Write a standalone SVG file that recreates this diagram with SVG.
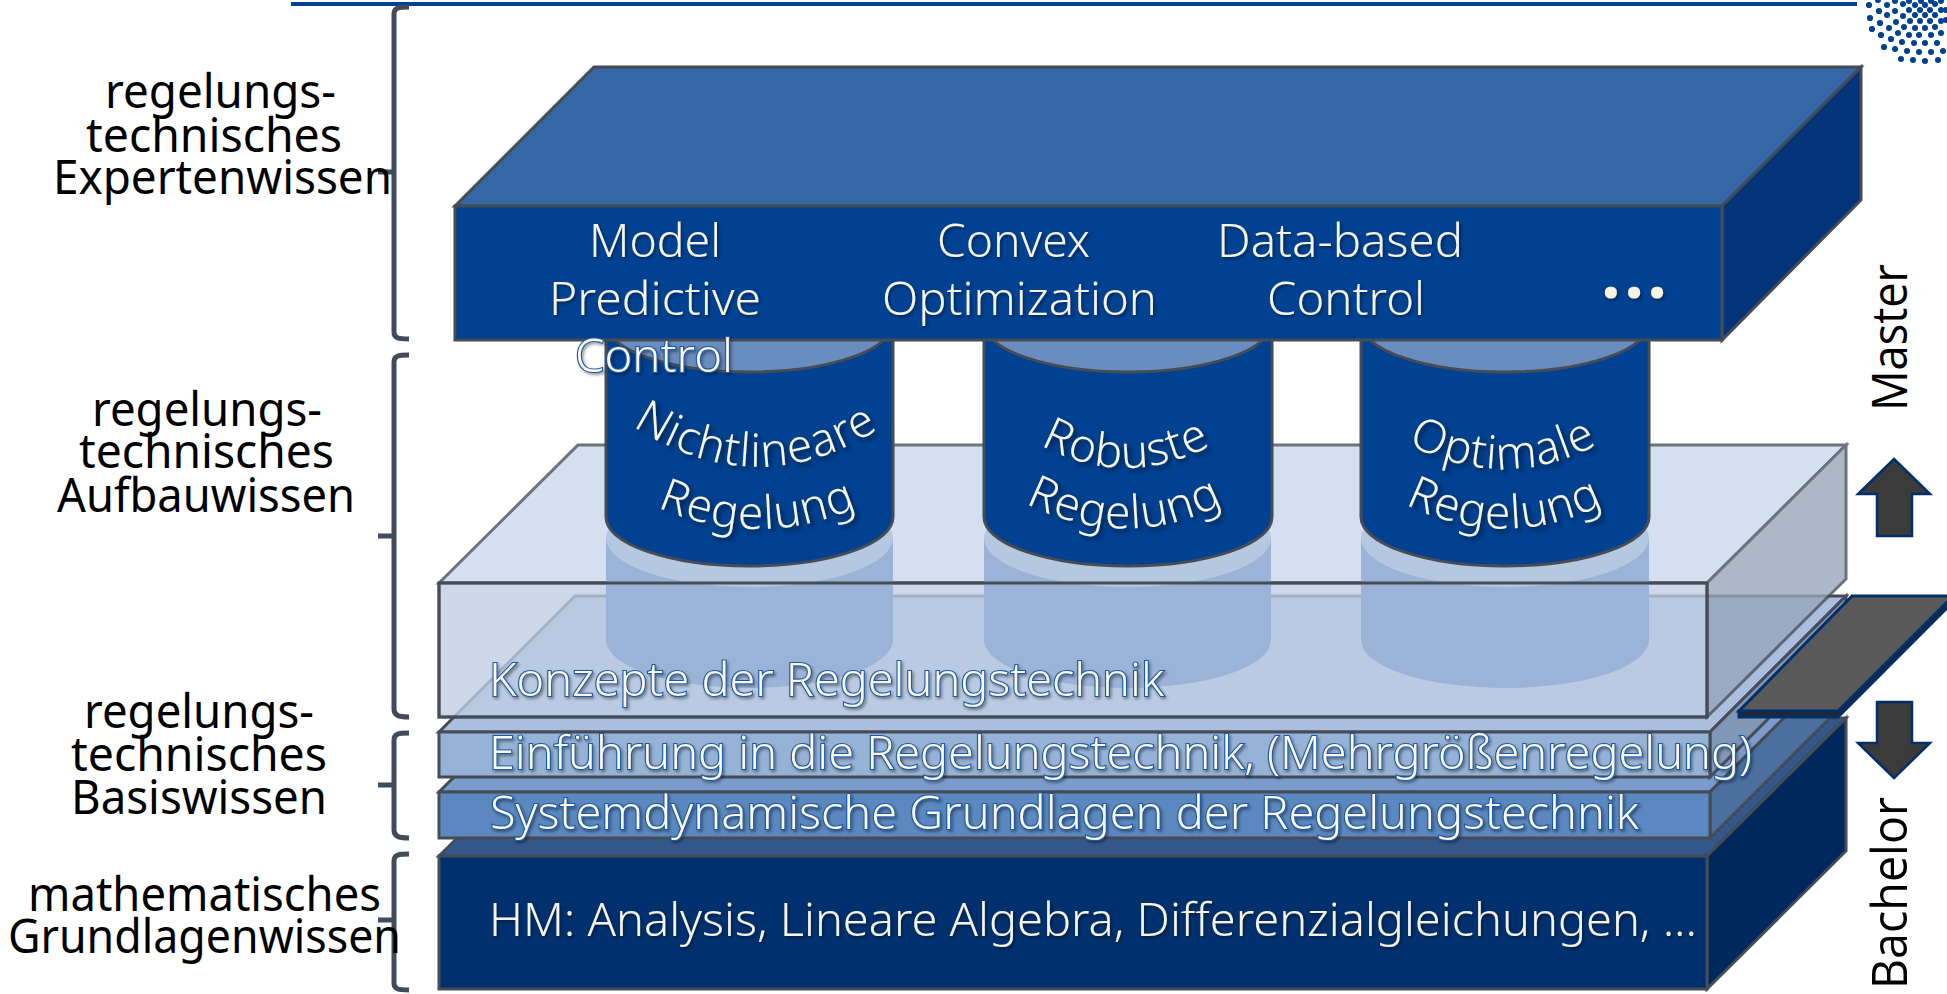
<svg xmlns="http://www.w3.org/2000/svg" width="1947" height="994" viewBox="0 0 1947 994">
<defs>
<style>
.edge{stroke:#454c56;stroke-width:3;stroke-linejoin:miter}
.br{fill:none;stroke:#414b59;stroke-width:5}
.lab{font-family:"Noto Sans","Open Sans",sans-serif;font-size:47px;fill:#000}
.rot{font-family:"Open Sans","Noto Sans",sans-serif;font-size:50px;fill:#000}
.wt{font-family:"Noto Sans","Open Sans",sans-serif;font-weight:300;font-size:45px;fill:#f7f3e6;filter:url(#sh)}
.ol{font-family:"Noto Sans","Open Sans",sans-serif;font-weight:300;font-size:45px;fill:#fbf9ef;stroke:#1e5aa5;stroke-width:2.2;paint-order:stroke;filter:url(#sh)}
.cv{font-family:"Noto Sans","Open Sans",sans-serif;font-weight:300;font-size:46px;letter-spacing:1px;fill:#f9f6ea;filter:url(#sh2);text-anchor:middle}
.arrow{fill:#3b3b3b;stroke:#002f6c;stroke-width:2.5}
.dot{fill:#004191}
.body{fill:#004191;stroke:#454c56;stroke-width:3}
.cap{fill:#6a8dbf;stroke:#454c56;stroke-width:3}
.rb{fill:#9ab3d7}
.rc{fill:#b5c8e2}
</style>
<filter id="sh" x="-5%" y="-20%" width="110%" height="150%"><feDropShadow dx="1.5" dy="2" stdDeviation="1.5" flood-color="#000" flood-opacity=".4"/></filter>
<filter id="sh2" x="-10%" y="-20%" width="120%" height="150%"><feDropShadow dx="3" dy="3" stdDeviation="2.5" flood-color="#000" flood-opacity=".55"/></filter>
<path id="p1" d="M624,420 Q756,512 888,423"/>
<path id="p2" d="M650,504 Q757,554 865,504"/>
<path id="p3" d="M1030,439 Q1126,497 1222,439"/>
<path id="p4" d="M1017,499 Q1126,558 1232,499"/>
<path id="p5" d="M1397,438 Q1505,500 1609,438"/>
<path id="p6" d="M1395,499 Q1505,558 1614,499"/>
</defs>

<line id="top-rule" x1="291" y1="4" x2="1857" y2="4" stroke="#004191" stroke-width="4"/>
<g id="logo" class="dot">
<circle cx="1869" cy="5" r="3.1"/><circle cx="1878" cy="0" r="3"/><circle cx="1887" cy="5" r="3"/><circle cx="1895" cy="1" r="3"/><circle cx="1903" cy="4" r="3"/><circle cx="1909" cy="1" r="3"/><circle cx="1915" cy="5" r="3"/><circle cx="1921" cy="1" r="3"/><circle cx="1925" cy="5" r="3"/><circle cx="1931" cy="1" r="3"/><circle cx="1935" cy="4" r="3"/><circle cx="1941" cy="1" r="3"/>
<circle cx="1879" cy="11" r="3.1"/><circle cx="1895" cy="11" r="3"/><circle cx="1909" cy="10" r="3"/><circle cx="1920" cy="10" r="3"/><circle cx="1930" cy="10" r="3"/><circle cx="1941" cy="10" r="3"/>
<circle cx="1870" cy="18" r="3.1"/><circle cx="1887" cy="15" r="3"/><circle cx="1903" cy="16" r="3"/><circle cx="1915" cy="15" r="3"/><circle cx="1925" cy="15" r="3"/><circle cx="1935" cy="15" r="3"/><circle cx="1946" cy="10" r="3"/>
<circle cx="1880" cy="23" r="3.1"/><circle cx="1896" cy="22" r="3"/><circle cx="1910" cy="21" r="3"/><circle cx="1920" cy="21" r="3"/><circle cx="1930" cy="21" r="3"/><circle cx="1941" cy="21" r="3"/>
<circle cx="1872" cy="29" r="3.1"/><circle cx="1889" cy="28" r="3"/><circle cx="1904" cy="27" r="3"/><circle cx="1915" cy="28" r="3"/><circle cx="1925" cy="28" r="3"/><circle cx="1935" cy="27" r="3"/><circle cx="1946" cy="20" r="3"/>
<circle cx="1881" cy="35" r="3.1"/><circle cx="1898" cy="33" r="3"/><circle cx="1909" cy="35" r="3"/><circle cx="1919" cy="35" r="3"/><circle cx="1931" cy="35" r="3"/><circle cx="1941" cy="33" r="3"/>
<circle cx="1891" cy="39" r="3.1"/><circle cx="1902" cy="42" r="3"/><circle cx="1914" cy="43" r="3"/><circle cx="1925" cy="43" r="3"/><circle cx="1937" cy="43" r="3"/>
<circle cx="1884" cy="47" r="3.1"/><circle cx="1895" cy="49" r="3"/><circle cx="1907" cy="51" r="3"/><circle cx="1919" cy="52" r="3"/><circle cx="1931" cy="52" r="3"/><circle cx="1943" cy="51" r="3"/>
<circle cx="1901" cy="59" r="3"/><circle cx="1913" cy="60" r="3"/><circle cx="1925" cy="61" r="3"/><circle cx="1938" cy="60" r="3"/>
</g>

<g id="brackets">
<path class="br" d="M409,7 C398,7 394,8 394,14 V332 C394,338 398,339 409,339 M378,172 H394"/>
<path class="br" d="M409,355 C398,355 394,356 394,362 V709 C394,715 398,717 409,717 M378,536 H394"/>
<path class="br" d="M409,733 C398,733 394,734 394,740 V830 C394,836 398,838 409,838 M378,785 H394"/>
<path class="br" d="M409,854 C398,854 394,855 394,861 V983 C394,989 398,990 409,990 M378,920 H394"/>
</g>

<g id="labels">
<text class="lab" x="105" y="108" textLength="231" lengthAdjust="spacingAndGlyphs">regelungs-</text>
<text class="lab" x="86" y="152" textLength="256" lengthAdjust="spacingAndGlyphs">technisches</text>
<text class="lab" x="53" y="194" textLength="339" lengthAdjust="spacingAndGlyphs">Expertenwissen</text>
<text class="lab" x="92" y="426" textLength="230" lengthAdjust="spacingAndGlyphs">regelungs-</text>
<text class="lab" x="79" y="468" textLength="255" lengthAdjust="spacingAndGlyphs">technisches</text>
<text class="lab" x="57" y="512" textLength="298" lengthAdjust="spacingAndGlyphs">Aufbauwissen</text>
<text class="lab" x="84" y="728" textLength="230" lengthAdjust="spacingAndGlyphs">regelungs-</text>
<text class="lab" x="71" y="771" textLength="256" lengthAdjust="spacingAndGlyphs">technisches</text>
<text class="lab" x="71" y="814" textLength="256" lengthAdjust="spacingAndGlyphs">Basiswissen</text>
<text class="lab" x="28" y="911" textLength="353" lengthAdjust="spacingAndGlyphs">mathematisches</text>
<text class="lab" x="8" y="953" textLength="393" lengthAdjust="spacingAndGlyphs">Grundlagenwissen</text>
<text class="rot" transform="translate(1907,411) rotate(-90)" textLength="147" lengthAdjust="spacingAndGlyphs">Master</text>
<text class="rot" transform="translate(1907,989) rotate(-90)" textLength="192" lengthAdjust="spacingAndGlyphs">Bachelor</text>
</g>

<g id="layer-hm">
<polygon class="edge" fill="#33578a" points="439,856 578,718 1846,718 1707,856"/>
<polygon class="edge" fill="#00285c" points="1707,856 1846,718 1846,851 1707,989"/>
<rect class="edge" fill="#00306e" x="439" y="856" width="1268" height="133"/>
</g>
<g id="layer-system">
<polygon class="edge" fill="#7a9bcb" points="439,792 575,656 1846,656 1710,792"/>
<polygon class="edge" fill="#4b6f9e" points="1710,792 1846,656 1846,702 1710,838"/>
<rect class="edge" fill="#5b88c0" x="439" y="792" width="1271" height="46"/>
</g>
<g id="layer-einfuehrung">
<polygon class="edge" fill="#aabfdf" points="439,732 575,596 1846,596 1710,732"/>
<polygon class="edge" fill="#8097b8" points="1710,732 1846,596 1846,641 1710,777"/>
<rect class="edge" fill="#96b2d6" x="439" y="732" width="1271" height="45"/>
</g>
<g id="layer-konzepte">
<g opacity=".78">
<polygon class="edge" fill="#c9d7eb" points="439,583 578,445 1846,445 1707,583"/>
<polygon class="edge" fill="#96a5b9" points="1707,583 1846,445 1846,579 1707,717"/>
<rect class="edge" fill="#becee4" x="439" y="583" width="1268" height="134"/>
</g>
</g>
<g id="reflections">
<path class="rb" d="M606,538 V640 A143.5,48 0 0 0 893,640 V538 Z"/><ellipse class="rc" cx="749.5" cy="538" rx="143.5" ry="49"/>
<path class="rb" d="M984,538 V640 A143.5,48 0 0 0 1271,640 V538 Z"/><ellipse class="rc" cx="1127.5" cy="538" rx="143.5" ry="49"/>
<path class="rb" d="M1361,538 V640 A144,48 0 0 0 1649,640 V538 Z"/><ellipse class="rc" cx="1505" cy="538" rx="144" ry="49"/>
<path fill="none" class="edge" d="M439,583 H1707 V717 H439 Z"/>
</g>
<g id="cyl-nichtlinear">
<path class="body" d="M606,323 V517 A143.5,49 0 0 0 893,517 V323 Z"/><ellipse class="cap" cx="749.5" cy="323" rx="143.5" ry="49"/>
<text class="cv"><textPath href="#p1" startOffset="50%">Nichtlineare</textPath></text>
<text class="cv"><textPath href="#p2" startOffset="50%">Regelung</textPath></text>
</g>
<g id="cyl-robust">
<path class="body" d="M984,323 V517 A144,49 0 0 0 1272,517 V323 Z"/><ellipse class="cap" cx="1128" cy="323" rx="144" ry="49"/>
<text class="cv"><textPath href="#p3" startOffset="50%">Robuste</textPath></text>
<text class="cv"><textPath href="#p4" startOffset="50%">Regelung</textPath></text>
</g>
<g id="cyl-optimal">
<path class="body" d="M1361,323 V517 A144,49 0 0 0 1649,517 V323 Z"/><ellipse class="cap" cx="1505" cy="323" rx="144" ry="49"/>
<text class="cv"><textPath href="#p5" startOffset="50%">Optimale</textPath></text>
<text class="cv"><textPath href="#p6" startOffset="50%">Regelung</textPath></text>
</g>
<g id="layer-top">
<polygon class="edge" fill="#3567a6" points="455,206 594,67 1861,67 1722,206"/>
<polygon class="edge" fill="#03347a" points="1722,206 1861,67 1861,200 1722,340"/>
<rect class="edge" fill="#004191" x="455" y="206" width="1267" height="134"/>
<text class="wt" x="589" y="257" textLength="132" lengthAdjust="spacingAndGlyphs">Model</text>
<text class="wt" x="549" y="315" textLength="212" lengthAdjust="spacingAndGlyphs">Predictive</text>
<text class="ol" x="575" y="372" textLength="158" lengthAdjust="spacingAndGlyphs">Control</text>
<text class="wt" x="937" y="257" textLength="153" lengthAdjust="spacingAndGlyphs">Convex</text>
<text class="wt" x="882" y="315" textLength="275" lengthAdjust="spacingAndGlyphs">Optimization</text>
<text class="wt" x="1217" y="257" textLength="246" lengthAdjust="spacingAndGlyphs">Data-based</text>
<text class="wt" x="1267" y="315" textLength="158" lengthAdjust="spacingAndGlyphs">Control</text>
<text class="wt" x="1601" y="298" style="font-size:70px;font-weight:700" textLength="66">...</text>
</g>
<g id="layer-texts">
<text class="ol" x="489" y="696" textLength="675" lengthAdjust="spacingAndGlyphs">Konzepte der Regelungstechnik</text>
<text class="ol" x="489" y="769" textLength="1263" lengthAdjust="spacingAndGlyphs">Einführung in die Regelungstechnik, (Mehrgrößenregelung)</text>
<text class="ol" x="490" y="829" textLength="1149" lengthAdjust="spacingAndGlyphs">Systemdynamische Grundlagen der Regelungstechnik</text>
<text class="wt" x="489" y="936" textLength="1208" lengthAdjust="spacingAndGlyphs">HM: Analysis, Lineare Algebra, Differenzialgleichungen, ...</text>
</g>
<g id="slab">
<polygon fill="#262626" stroke="#002f6c" stroke-width="3" points="1739,711 1838,711 1953,596 1953,602 1838,717 1739,717"/>
<polygon fill="#595959" stroke="#002f6c" stroke-width="3" points="1739,711 1852,596 1953,596 1838,711"/>
</g>
<g id="arrow-up"><polygon class="arrow" points="1894,459 1930,494 1912,494 1912,536 1877,536 1877,494 1858,494"/></g>
<g id="arrow-down"><polygon class="arrow" points="1894,778 1930,743 1912,743 1912,702 1877,702 1877,743 1858,743"/></g>
</svg>
